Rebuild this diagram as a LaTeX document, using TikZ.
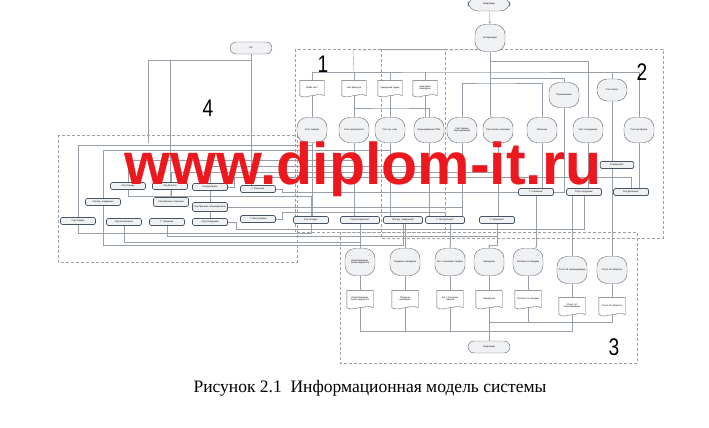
\documentclass[tikz,border=0pt]{standalone}
\usepackage{fontspec}
\setmainfont{Liberation Serif}
\newfontfamily\dsans{Liberation Sans}
\usetikzlibrary{backgrounds,arrows.meta}
\definecolor{wirec}{RGB}{150,158,168}
\definecolor{boxc}{RGB}{70,84,100}
\definecolor{dispc}{RGB}{95,102,110}
\definecolor{fillc}{RGB}{240,241,243}
\definecolor{grpc}{RGB}{160,160,160}
\definecolor{wmred}{RGB}{236,24,30}
\newcommand\tinyfont{\dsans\fontsize{2.3}{2.7}\selectfont}
% wavy outline round a document node
\newcommand\docedge[1]{\draw[dispc, line width=0.4pt] (#1.south west) -- (#1.north west) -- (#1.north east) -- (#1.south east)
  .. controls +(-7pt,3pt) and +(5pt,0pt) .. (#1.south) .. controls +(-5pt,0pt) and +(7pt,-3pt) .. (#1.south west);}

\begin{document}
\begin{tikzpicture}
[x=1pt, y=-1pt,
disp/.style={draw=dispc, fill=fillc, line width=0.4pt, rounded corners=10pt, minimum width=30pt, minimum height=25pt, text width=27pt, align=center, inner sep=0.5pt, font=\tinyfont},
doc/.style={fill=white, minimum width=24pt, minimum height=15pt, text width=22pt, align=center, inner sep=0.5pt, font=\tinyfont},
proc/.style={draw=boxc, fill=fillc, line width=0.7pt, rounded corners=1.5pt, minimum width=35pt, minimum height=7pt, text width=33pt, align=center, inner sep=0.3pt, font=\tinyfont},
term/.style={draw=dispc, fill=fillc, line width=0.4pt, rounded corners=6pt, minimum width=42pt, minimum height=12pt, font=\tinyfont},
grp/.style={draw=grpc, line width=0.6pt, dash pattern=on 3pt off 2pt},
wire/.style={draw=wirec, line width=0.4pt},
grpnum/.style={font=\dsans\fontsize{24}{24}\selectfont, xscale=0.8}]
\useasboundingbox (0,0) rectangle (709,428);

% groups
\draw[grp] (295,49) rectangle (445,232);
\draw[grp] (381,49) rectangle (663,238);
\draw[grp] (58,135) rectangle (297,262);
\draw[grp] (340,232) rectangle (637,363);
\node[grpnum] (n1) at (323,64) {1};
\node[grpnum] (n2) at (642,72) {2};
\node[grpnum] (n3) at (614,347) {3};
\node[grpnum] (n4) at (208,108) {4};

% top
\node[disp, minimum width=42pt, minimum height=14pt] (kl1) at (489,4) {Кладовщик};
\node[disp, minimum height=27pt] (auth) at (490,38) {Авторизация};

% block 1 documents
\node[doc] (prl) at (312,88) {прайс-лист};
\node[doc] (sf) at (354,88) {счет-фактура};
\node[doc] (po) at (390,88) {приходный ордер};
\node[doc] (pn) at (425,88) {приходная накладная};
\docedge{prl} \docedge{sf} \docedge{po} \docedge{pn}

% forms
\node[disp] (utov) at (312,130) {Учет товаров};
\node[disp] (ukon) at (354,130) {Учет контрагентов};
\node[disp] (ued) at (390,130) {Учет ед. изм.};
\node[disp] (uopr) at (429,130) {Оприходование ТМЦ};
\node[disp] (upo) at (462,130) {Учет причин оприходования};
\node[disp] (ups) at (498,130) {Учет причин списания};
\node[disp] (uspi) at (542,130) {Списание};
\node[disp] (usot) at (588,130) {Учет сотрудников};
\node[disp] (udog) at (639,130) {Учет договоров};
\node[disp] (uper) at (564,95) {Перемещение};
\node[disp, minimum height=22pt] (uval) at (612,90) {Учет валют};

% block 4 tables
\node[term] (is) at (251,48) {ИС};
\node[proc] (sskl) at (128,186) {Спр.Склады};
\node[proc] (sval) at (170,186) {Спр.Валюты};
\node[proc] (sdog) at (210,187) {Спр.Договоры};
\node[proc] (tspi) at (258,189) {Т. Списание};
\node[proc] (sed) at (103,202) {Спр.Ед. измерения};
\node[proc, minimum height=9pt] (sprs) at (171,202) {Спр.Причины списания};
\node[proc, minimum height=9pt] (spro) at (210,207) {Спр.Причины оприходования};
\node[proc] (stov) at (78,221) {Спр.Товары};
\node[proc] (skon) at (124,222) {Спр.Контрагенты};
\node[proc] (thr) at (167,222) {Т. Хранение};
\node[proc] (ssot) at (210,222) {Спр.Сотрудники};
\node[proc] (tpos) at (258,219) {Т. Поступление};

% copies
\node[proc] (sskl2) at (311,220) {Спр.Склады*};
\node[proc, minimum width=39pt] (skon2) at (360,220) {Спр.Контрагенты*};
\node[proc, minimum width=39pt] (sed2) at (403,220) {Спр.Ед. измерения*};
\node[proc, minimum width=39pt] (tpos2) at (445,220) {Т. Поступление*};
\node[proc] (thr2) at (497,220) {Т. Хранение*};
\node[proc] (tspi2) at (536,192) {Т. Списание*};
\node[proc] (ssot2) at (584,192) {Спр.Сотрудники*};
\node[proc] (sdog2) at (631,192) {Спр.Договоры*};
\node[proc, minimum width=30pt] (sval2) at (617,165) {Спр.Валюты*};

% block 3 reports
\node[disp, minimum height=27pt] (rinv) at (360,262) {Инвентаризаци\-онная ведомость};
\node[disp, minimum height=27pt] (rtn) at (405,262) {Товарная накладная};
\node[disp, minimum height=27pt] (rakt) at (450,262) {Акт о списании товаров};
\node[disp, minimum height=27pt] (rnak) at (489,262) {Накладная};
\node[disp, minimum height=27pt] (rost) at (528,262) {Остатки по складам};
\node[disp, minimum height=27pt] (roo) at (572,270) {Отчет об оприходовании};
\node[disp, minimum height=27pt] (rob) at (612,270) {Отчет об оборотах};
\node[doc, minimum width=26pt, minimum height=17pt] (dinv) at (360,299) {Инвентаризаци\-онная ведомость};
\node[doc, minimum width=26pt, minimum height=17pt] (dtn) at (405,299) {Товарная накладная};
\node[doc, minimum width=26pt, minimum height=17pt] (dakt) at (450,299) {Акт о списании товаров};
\node[doc, minimum width=26pt, minimum height=17pt] (dnak) at (489,299) {Накладная};
\node[doc, minimum width=26pt, minimum height=17pt] (dost) at (528,299) {Остатки по складам};
\node[doc, minimum width=26pt, minimum height=17pt] (doo) at (572,306) {Отчет об оприходовании};
\node[doc, minimum width=26pt, minimum height=17pt] (dob) at (612,306) {Отчет об оборотах};
\docedge{dinv} \docedge{dtn} \docedge{dakt} \docedge{dnak} \docedge{dost} \docedge{doo} \docedge{dob}
\node[term] (kl2) at (489,347) {Кладовщик};

\begin{scope}[on background layer]
\coordinate (b50) at (353,50);
\coordinate (b61) at (490,61);
\coordinate (b72) at (490,72);
\coordinate (b78) at (490,78);
\coordinate (b83) at (490,83);
\coordinate (b108) at (390,108);
\coordinate (c148) at (148,60);
\coordinate (y143) at (0,143);
\coordinate (y145) at (0,145);
\coordinate (y150) at (0,150);
\coordinate (y160) at (0,160);
\coordinate (y166) at (0,166);
\coordinate (y172) at (0,172);
\coordinate (y177) at (0,177);
\coordinate (y196) at (0,196);
\coordinate (y212) at (0,212);
\coordinate (y229) at (0,229);
\coordinate (y233) at (0,233);
\coordinate (y236) at (0,236);
\coordinate (y242) at (0,242);
\coordinate (y245) at (0,245);
\coordinate (y322) at (0,322);
\coordinate (y331) at (0,331);
% top part
\draw[wire, -{Stealth[length=3pt, width=2pt]}] (kl1.south) -- (auth.north);
\draw[wire] (auth.south) -- (auth.south |- ups.north);
\draw[wire] (prl.north) |- (b72) -| (uval.north);
\draw[wire] (sf.north) -- (sf.north |- b72);
\draw[wire] (po.north) -- (po.north |- b72);
\draw[wire] (pn.north) -- (pn.north |- b72);
\draw[wire] (sf.north |- b72) -- (b50) -| (auth.south);
\draw[wire] (b61) -| (usot.north);
\draw[wire] (b78) -| (uper.north);
\draw[wire] (upo.north) |- (b83) -| (uspi.north);
\draw[wire] (uval.north |- b72) -| (udog.north);
\draw[wire] (prl) -- (utov);
\draw[wire] (sf) -- (ukon);
\draw[wire] (po) -- (ued);
\draw[wire] (pn.south) -- (pn.south |- uopr.north);
\draw[wire] (sf.south) |- (b108) -| (uopr.north);
% forms to copies
\draw[wire] (utov.south) -- (utov.south |- sskl2.north);
\draw[wire] (ukon.south) -- (ukon.south |- skon2.north);
\draw[wire] (ued.south) -- (ued.south |- sed2.north);
\draw[wire] (uopr.south) -- (uopr.south |- tpos2.north);
\draw[wire] (upo.south) -- (upo.south |- tpos2.north);
\draw[wire] (ups.south) -- (ups.south |- thr2.north);
\draw[wire] (uspi.south) -- (uspi.south |- tspi2.north);
\draw[wire] (usot.south) -- (usot.south |- ssot2.north);
\draw[wire] (udog.south) -- (udog.south |- sdog2.north);
\draw[wire] (uval.south) -- (uval.south |- sval2.north);
\draw[wire] (uper.south) |- (tspi2.east);
% forms to block 4
\draw[wire] (utov.south) |- (stov.north |- y145) -- (stov.north);
\draw[wire] (ued.south) |- (sed.north |- y150) -- (sed.north);
\draw[wire] (ukon.south) |- (sskl.north |- y160) -- (sskl.north);
\draw[wire] (is.south) |- (c148) -- (c148 |- y143);
\draw[wire] (is.south) |- (sval.north |- c148) -- (sval.north);
\draw[wire] (is.south) -- (is.south |- tspi.north);
\draw[wire] (uopr.south) |- (sdog.north |- y166) -- (sdog.north);
\draw[wire] (ups.south) |- (sprs.north |- y172) -- (sprs.north);
\draw[wire] (spro.east) -| (upo.south);
\draw[wire] (sval.south) -- (sprs.north);
\draw[wire] (sdog.south) -- (spro.north);
\draw[wire] (spro.south) -- (ssot.north);
% block 4 to copies
\draw[wire] (sskl.south) |- (sskl2.north |- y196) -- (sskl2.north);
\draw[wire] (tspi.east) -- ++(6,0) |- (tspi2.west);
\draw[wire] (tpos.east) -- ++(6,0) |- (tpos2.north |- y212) -- (tpos2.north);
\draw[wire] (sdog.east) -- ++(6,0) |- (sdog2.north |- y177) -- (sdog2.north);
\draw[wire] (ssot.east) -- ++(8,0) |- (ssot2.south |- y229) -- (ssot2.south);
\draw[wire] (stov.south) |- (sskl2.south |- y233) -- (sskl2.south);
\draw[wire] (thr.south) |- (thr2.south |- y236) -- (thr2.south);
\draw[wire] (skon.south) |- (skon2.south |- y242) -- (skon2.south);
\draw[wire] (sed.south) |- (sed2.south |- y245) -- (sed2.south);
% copies to reports
\draw[wire] (rinv.north) -- (rinv.north |- skon2.south);
\draw[wire] (rtn.north) -- (rtn.north |- sed2.south);
\draw[wire, -{Stealth[length=2pt, width=1.6pt]}] (rakt.north |- tpos2.south) -- (rakt.north);
\draw[wire, -{Stealth[length=2pt, width=1.6pt]}] (thr2.south) |- (rnak.north |- y245) -- (rnak.north);
\draw[wire, -{Stealth[length=2pt, width=1.6pt]}] (tspi2.south) -- (tspi2.south |- rost.north);
\draw[wire] (roo.north) -- (roo.north |- ssot2.south);
\draw[wire] (rob.north) -- (rob.north |- sval2.south);
% reports to documents
\draw[wire] (rinv) -- (dinv);
\draw[wire] (rtn) -- (dtn);
\draw[wire] (rakt) -- (dakt);
\draw[wire] (rnak) -- (dnak);
\draw[wire] (rost) -- (dost);
\draw[wire] (roo) -- (doo);
\draw[wire] (rob) -- (dob);
\draw[wire] (dinv.south) |- (kl2.north |- y331) -- (kl2.north);
\draw[wire] (dtn.south) -- (dtn.south |- y331);
\draw[wire] (dakt.south) -- (dakt.south |- y331);
\draw[wire] (doo.south) |- (kl2.north |- y331);
\draw[wire] (dnak.south) -- (kl2.north);
\draw[wire] (dob.south) |- (dnak.south |- y322);
\draw[wire] (dost.south) -- (dost.south |- y322);
\end{scope}

% caption and watermark
\node[font=\fontsize{17.5}{17.5}\selectfont, anchor=base] (cap) at (370,392) {Рисунок 2.1\ \ Информационная модель системы};
\node[font=\dsans\bfseries\fontsize{59}{59}\selectfont, text=wmred, anchor=base] (wm) at (363,184) {www.diplom-it.ru};
\end{tikzpicture}
\end{document}
